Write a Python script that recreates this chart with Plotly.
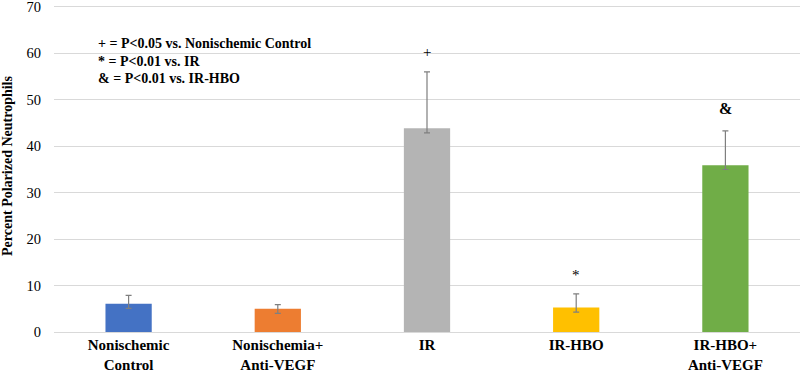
import plotly.graph_objects as go

categories = ["Nonischemic<br>Control", "Nonischemia+<br>Anti-VEGF", "IR", "IR-HBO", "IR-HBO+<br>Anti-VEGF"]
values = [6.1, 5.0, 43.9, 5.3, 35.9]
err_plus = [1.8, 0.9, 12.1, 2.9, 7.4]
err_minus = [1.0, 1.0, 1.0, 1.0, 0.9]
colors = ["#4472C4", "#ED7D31", "#B4B4B4", "#FFC000", "#70AD47"]
marks = ["", "", "+", "*", "&"]
mark_y = [0, 0, 60.4, 12.3, 48.1]

FONT = "Liberation Serif"

fig = go.Figure()
fig.add_trace(go.Bar(
    x=list(range(len(categories))), y=values,
    marker=dict(color=colors, line=dict(width=0)),
    width=0.31,
    error_y=dict(type="data", symmetric=False, array=err_plus, arrayminus=err_minus,
                 color="#7F7F7F", thickness=1.2, width=3),
    showlegend=False,
))

for i, (m, my) in enumerate(zip(marks, mark_y)):
    if m:
        fig.add_annotation(x=i, y=my, text=f"<b>{m}</b>" if m == "&" else m, showarrow=False,
                           font=dict(family=FONT, size=15 if m != "&" else 16, color="#000000"),
                           xanchor="center", yanchor="middle")

legend_lines = ["+ = P<0.05 vs. Nonischemic Control", "* = P<0.01 vs. IR", "& = P<0.01 vs. IR-HBO"]
for k, line in enumerate(legend_lines):
    fig.add_annotation(x=-0.5 + (96 - 54) / 149.3, y=(332.3 - 44 - 17.5 * k) / 4.643,
                       text=f"<b>{line}</b>", showarrow=False, xanchor="left", yanchor="middle",
                       font=dict(family=FONT, size=14, color="#000000"))

fig.update_layout(
    width=800, height=373,
    margin=dict(l=54, r=0, t=0, b=41),
    plot_bgcolor="#FFFFFF", paper_bgcolor="#FFFFFF",
    font=dict(family=FONT, color="#000000"),
)
fig.update_xaxes(
    range=[-0.5, 4.5], automargin=False,
    tickmode="array", tickvals=list(range(len(categories))),
    ticktext=[f"<b>{c}</b>" for c in categories],
    tickfont=dict(family=FONT, size=15, color="#000000"),
    showgrid=False, zeroline=False, showline=False, ticks="", ticklabelstandoff=2,
    ticklabeloverflow="allow",
)
fig.update_yaxes(
    range=[0, 71.5], tickvals=[0, 10, 20, 30, 40, 50, 60, 70], automargin=False,
    tickfont=dict(family=FONT, size=14.5, color="#000000"),
    tickprefix="<b>", ticksuffix="</b>",
    showgrid=True, gridcolor="#D9D9D9", gridwidth=1,
    zeroline=True, zerolinecolor="#D9D9D9", zerolinewidth=1,
    showline=False, ticks="", ticklabelstandoff=12, ticklabeloverflow="allow",
    title=dict(text="<b>Percent Polarized Neutrophils</b>", font=dict(family=FONT, size=14, color="#000000"),
               standoff=31),
)

fig.write_html("out.html", config={"displayModeBar": False},
               post_script="document.body.style.margin='0';")
